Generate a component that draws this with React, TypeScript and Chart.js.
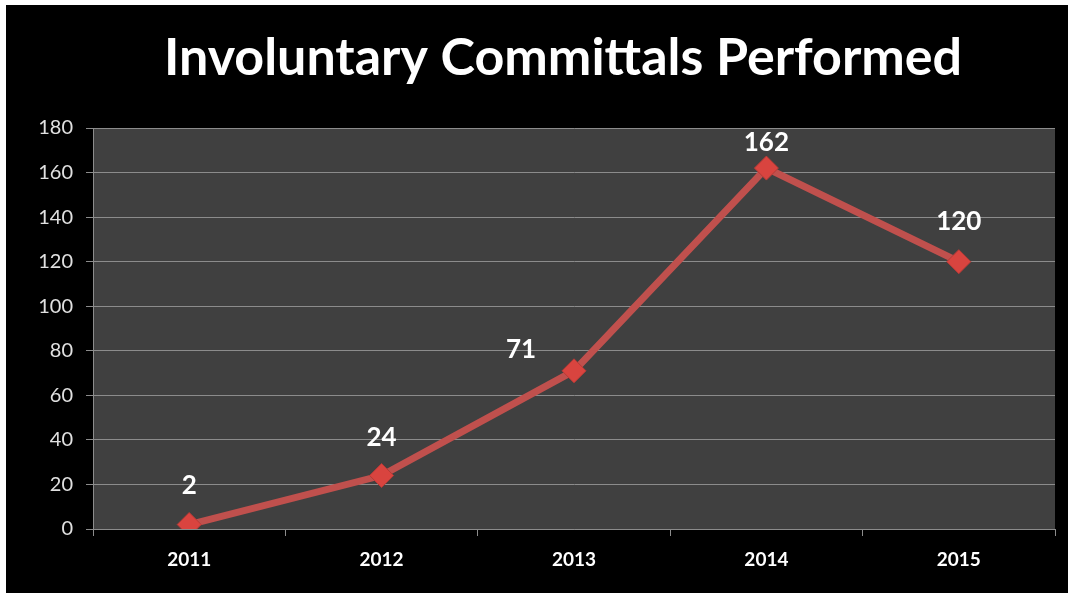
import React, { useEffect, useRef } from "react";
import { Chart, registerables } from "chart.js";

Chart.register(...registerables);

const titleText = "Involuntary Committals Performed";
const years = ["2011", "2012", "2013", "2014", "2015"];
const committals = [2, 24, 71, 162, 120];
const yTicks = [0, 20, 40, 60, 80, 100, 120, 140, 160, 180];

// label placement offsets (styling) relative to each point
const labelOffsets: [number, number][] = [
  [0, -39],
  [0, -38],
  [-53, -21],
  [0, -25],
  [0, -40],
];

const bgPlugin = {
  id: "bgPlugin",
  beforeDraw(chart: any) {
    const { ctx, chartArea, width, height } = chart;
    ctx.save();
    ctx.fillStyle = "#000000";
    ctx.fillRect(0, 0, width, height);
    ctx.fillStyle = "#404040";
    ctx.fillRect(chartArea.left, chartArea.top, chartArea.right - chartArea.left, chartArea.bottom - chartArea.top);
    ctx.restore();
  },
  afterDraw(chart: any) {
    const { ctx } = chart;
    ctx.save();
    ctx.fillStyle = "#ffffff";
    ctx.font = "bold 52px Lato";
    ctx.textAlign = "center";
    ctx.textBaseline = "alphabetic";
    ctx.fillText(titleText, 557, 70);
    const meta = chart.getDatasetMeta(0);
    ctx.font = "bold 26px Lato";
    ctx.textBaseline = "middle";
    meta.data.forEach((pt: any, i: number) => {
      const [dx, dy] = labelOffsets[i];
      ctx.fillText(String(committals[i]), pt.x + dx, pt.y + dy);
    });
    ctx.restore();
  },
};

export default function App() {
  const ref = useRef<HTMLCanvasElement>(null);
  useEffect(() => {
    if (!ref.current) return;
    const chart = new Chart(ref.current, {
      type: "line",
      data: {
        labels: years,
        datasets: [
          {
            data: committals,
            borderColor: "#c0504d",
            borderWidth: 7,
            pointStyle: "rectRot",
            pointRadius: 12,
            pointHoverRadius: 12,
            pointBackgroundColor: "#d9443f",
            pointBorderColor: "#b73a36",
            pointBorderWidth: 1,
            tension: 0,
          },
        ],
      },
      options: {
        responsive: false,
        animation: false,
        layout: { padding: { left: 0, right: 10, top: 123, bottom: 0 } },
        plugins: { legend: { display: false }, title: { display: false }, tooltip: { enabled: false } },
        scales: {
          x: {
            offset: true,
            grid: {
              offset: true,
              drawOnChartArea: false,
              drawTicks: true,
              tickLength: 7,
              color: "#8c8c8c",
            },
            border: { color: "#8c8c8c", width: 1 },
            ticks: { color: "#ffffff", font: { family: "Lato", size: 19, weight: "bold" }, padding: 12, maxRotation: 0 },
            afterFit(scale: any) {
              scale.height = 64;
            },
          },
          y: {
            min: 0,
            max: 180,
            afterBuildTicks(scale: any) {
              scale.ticks = yTicks.map((v) => ({ value: v }));
            },
            grid: { color: "#8c8c8c", tickLength: 7, lineWidth: 1 },
            border: { color: "#8c8c8c", width: 1 },
            ticks: { color: "#e0e0e0", font: { family: "Lato", size: 20 }, padding: 13 },
            afterFit(scale: any) {
              scale.width = 87;
            },
          },
        },
      },
      plugins: [bgPlugin],
    });
    return () => chart.destroy();
  }, []);
  return (
    <div style={{ position: "fixed", left: 6, top: 5, width: 1062, height: 588, background: "#000" }}>
      <canvas ref={ref} width={1062} height={588} style={{ display: "block" }} />
    </div>
  );
}
